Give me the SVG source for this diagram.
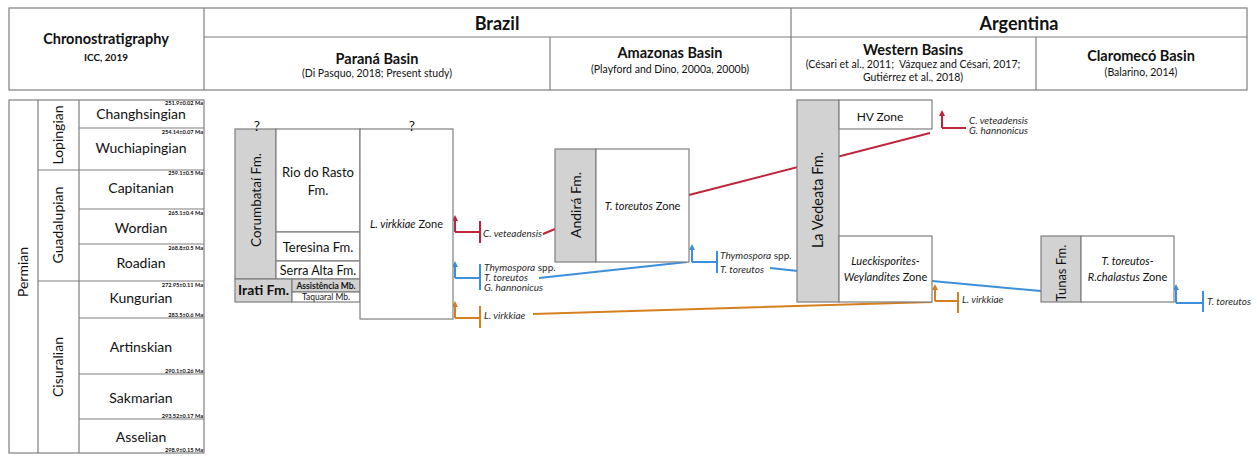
<svg xmlns="http://www.w3.org/2000/svg" width="1257" height="456" viewBox="0 0 1257 456">
<defs>
<style>
text{font-family:Lato,"Liberation Sans",sans-serif;fill:#111}
.ln{stroke:#7f7f7f;stroke-width:1.2;fill:none}
.box{fill:#fff;stroke:#7f7f7f;stroke-width:1.2}
.gray{fill:#d2d2d2;stroke:#7f7f7f;stroke-width:1.2}
.c{text-anchor:middle}
.b{font-weight:bold}
.i{font-style:italic}
.hdr{font-size:18px;font-weight:bold;text-anchor:middle}
.basin{font-size:14.5px;font-weight:bold;text-anchor:middle}
.ref{font-size:10.5px;text-anchor:middle}
.stage{font-size:14px;text-anchor:middle}
.age{font-size:5.6px;font-weight:bold;text-anchor:end}
.sp{font-size:10px;font-style:italic;fill:#2a2a2a}
.q{font-size:14px;text-anchor:middle}
.red{stroke:#c0243c;stroke-width:2;fill:none}
.blue{stroke:#3b8fdc;stroke-width:2;fill:none}
.org{stroke:#d5801e;stroke-width:2;fill:none}
</style>
<marker id="ar" viewBox="0 0 6 6" refX="3" refY="3" markerWidth="3" markerHeight="3" orient="auto"><path d="M0,0 L6,3 L0,6 z" fill="#c0243c"/></marker>
<marker id="ab" viewBox="0 0 6 6" refX="3" refY="3" markerWidth="3" markerHeight="3" orient="auto"><path d="M0,0 L6,3 L0,6 z" fill="#3b8fdc"/></marker>
<marker id="ao" viewBox="0 0 6 6" refX="3" refY="3" markerWidth="3" markerHeight="3" orient="auto"><path d="M0,0 L6,3 L0,6 z" fill="#d5801e"/></marker>
</defs>
<rect width="1257" height="456" fill="#fff"/>

<g id="header">
<rect x="9" y="8" width="1238" height="82" class="box"/>
<path class="ln" d="M204,8 V90 M204,37 H1247 M791,8 V90 M550,37 V90 M1036,37 V90"/>
<text x="106" y="44" class="b c" style="font-size:14.5px">Chronostratigraphy</text>
<text x="106" y="61" class="b c" style="font-size:10px">ICC, 2019</text>
<text x="497" y="30" class="hdr">Brazil</text>
<text x="1019" y="30" class="hdr">Argentina</text>
<text x="377" y="64" class="basin">Paraná Basin</text>
<text x="377" y="77" class="ref">(Di Pasquo, 2018; Present study)</text>
<text x="670" y="58" class="basin">Amazonas Basin</text>
<text x="670" y="73" class="ref">(Playford and Dino, 2000a, 2000b)</text>
<text x="913" y="55" class="basin">Western Basins</text>
<text x="913" y="68" class="ref" xml:space="preserve">(Césari et al., 2011;  Vázquez and Césari, 2017;</text>
<text x="913" y="81" class="ref">Gutiérrez et al., 2018)</text>
<text x="1141" y="61" class="basin">Claromecó Basin</text>
<text x="1141" y="76" class="ref">(Balarino, 2014)</text>
</g>

<g id="chronostratigraphy">
<rect x="9" y="100" width="195" height="353" class="box"/>
<path class="ln" d="M38,100 V453 M79,100 V453 M38,170 H204 M38,281 H204 M79,128 H204 M79,209 H204 M79,244 H204 M79,318 H204 M79,374 H204 M79,419 H204"/>
<text transform="rotate(-90 23 272)" x="23" y="277" class="stage">Permian</text>
<text transform="rotate(-90 58 135)" x="58" y="140" class="stage">Lopingian</text>
<text transform="rotate(-90 58 225)" x="58" y="230" class="stage">Guadalupian</text>
<text transform="rotate(-90 58 367)" x="58" y="372" class="stage">Cisuralian</text>
<text x="141" y="119" class="stage">Changhsingian</text>
<text x="141" y="153" class="stage">Wuchiapingian</text>
<text x="141" y="193" class="stage">Capitanian</text>
<text x="141" y="233" class="stage">Wordian</text>
<text x="141" y="268" class="stage">Roadian</text>
<text x="141" y="303" class="stage">Kungurian</text>
<text x="141" y="352" class="stage">Artinskian</text>
<text x="141" y="403" class="stage">Sakmarian</text>
<text x="141" y="442" class="stage">Asselian</text>
<text x="203" y="105" class="age">251.9±0.02 Ma</text>
<text x="203" y="134" class="age">254.14±0.07 Ma</text>
<text x="203" y="175" class="age">259.1±0.5 Ma</text>
<text x="203" y="215" class="age">265.1±0.4 Ma</text>
<text x="203" y="250" class="age">268.8±0.5 Ma</text>
<text x="203" y="287" class="age">272.95±0.11 Ma</text>
<text x="203" y="317" class="age">283.5±0.6 Ma</text>
<text x="203" y="373" class="age">290.1±0.26 Ma</text>
<text x="203" y="418" class="age">293.52±0.17 Ma</text>
<text x="203" y="452" class="age">298.9±0.15 Ma</text>
</g>

<g id="connectors">
<path class="red" d="M455,232 V218" marker-end="url(#ar)"/>
<path class="red" d="M455,232 H480 M480,221 V243 M543,234 L555,229 M689,195 L930,133 M942,128 H966"/>
<path class="red" d="M942,128 V113" marker-end="url(#ar)"/>
<path class="blue" d="M455,278 V264" marker-end="url(#ab)"/>
<path class="blue" d="M455,278 H480 M480,264 V290 M539,278 L687,262 M692,262 H717 M717,251 V273 M770,268 L798,271 M932,281 L1041,291 M1176,303 H1203 M1203,291 V312"/>
<path class="blue" d="M692,262 V247" marker-end="url(#ab)"/>
<path class="blue" d="M1176,303 V287" marker-end="url(#ab)"/>
<path class="org" d="M455,318 V304" marker-end="url(#ao)"/>
<path class="org" d="M455,318 H480 M480,306 V328 M533,314 L932,302 M935,301 H958 M958,292 V313"/>
<path class="org" d="M935,301 V287" marker-end="url(#ao)"/>
</g>

<g id="connector-labels">
<text x="483" y="237" class="sp">C. veteadensis</text>
<text x="484" y="271" class="sp"><tspan>Thymospora</tspan><tspan style="font-style:normal"> spp.</tspan></text>
<text x="484" y="281" class="sp">T. toreutos</text>
<text x="484" y="291" class="sp">G. hannonicus</text>
<text x="484" y="319" class="sp">L. virkkiae</text>
<text x="720" y="259" class="sp"><tspan>Thymospora</tspan><tspan style="font-style:normal"> spp.</tspan></text>
<text x="720" y="273" class="sp">T. toreutos</text>
<text x="969" y="124" class="sp">C. veteadensis</text>
<text x="969" y="134" class="sp">G. hannonicus</text>
<text x="962" y="303" class="sp">L. virkkiae</text>
<text x="1207" y="305" class="sp">T. toreutos</text>
</g>

<g id="corumbatai-fm">
<rect x="235" y="129" width="41" height="150" class="gray"/>
<text transform="rotate(-90 256 200)" x="256" y="205" class="c" style="font-size:13.5px">Corumbataí Fm.</text>
<text x="257" y="131" class="q">?</text>
</g>
<g id="rio-do-rasto-fm">
<rect x="276" y="129" width="84" height="103" class="box"/>
<text x="318" y="177" class="c" style="font-size:13px">Rio do Rasto</text>
<text x="318" y="195" class="c" style="font-size:13px">Fm.</text>
</g>
<g id="teresina-fm">
<rect x="276" y="232" width="84" height="29" class="box"/>
<text x="318" y="251.5" class="c" style="font-size:13px">Teresina Fm.</text>
</g>
<g id="serra-alta-fm">
<rect x="276" y="261" width="84" height="18" class="box"/>
<text x="318" y="274.5" class="c" style="font-size:12.5px">Serra Alta Fm.</text>
</g>
<g id="irati-fm">
<rect x="235" y="279" width="57" height="23" class="gray"/>
<text x="263.5" y="295" class="c b" style="font-size:14px">Irati Fm.</text>
</g>
<g id="assistencia-mb">
<rect x="292" y="279" width="68" height="13" class="gray"/>
<text x="326" y="289" class="c b" style="font-size:8.5px">Assistência Mb.</text>
</g>
<g id="taquaral-mb">
<rect x="292" y="292" width="68" height="10" class="box"/>
<text x="326" y="300" class="c" style="font-size:8.5px">Taquaral Mb.</text>
</g>
<g id="l-virkkiae-zone">
<rect x="360" y="129" width="93" height="190" class="box"/>
<text x="406.5" y="228" class="c" style="font-size:11px"><tspan class="i">L. virkkiae</tspan> Zone</text>
<text x="412" y="131" class="q">?</text>
</g>

<g id="andira-fm">
<rect x="555" y="149" width="41" height="113" class="gray"/>
<text transform="rotate(-90 575.5 205)" x="575.5" y="210" class="c" style="font-size:14px">Andirá Fm.</text>
</g>
<g id="t-toreutos-zone">
<rect x="596" y="149" width="93" height="113" class="box"/>
<text x="642.5" y="210" class="c" style="font-size:11px"><tspan class="i">T. toreutos</tspan> Zone</text>
</g>

<g id="la-vedeata-fm">
<rect x="797" y="100" width="42" height="202" class="gray"/>
<text transform="rotate(-90 818 200)" x="818" y="205" class="c" style="font-size:14.5px">La Vedeata Fm.</text>
</g>
<g id="hv-zone">
<rect x="839" y="100" width="93" height="29" class="box"/>
<text x="880" y="121" class="c" style="font-size:12px">HV Zone</text>
</g>
<g id="lueckisporites-weylandites-zone">
<rect x="839" y="236" width="93" height="66" class="box"/>
<text x="885.5" y="265" class="c i" style="font-size:11px">Lueckisporites-</text>
<text x="885.5" y="281" class="c" style="font-size:11px"><tspan class="i">Weylandites</tspan> Zone</text>
</g>

<g id="tunas-fm">
<rect x="1041" y="236" width="40" height="66" class="gray"/>
<text transform="rotate(-90 1061 273)" x="1061" y="278" class="c" style="font-size:13px">Tunas Fm.</text>
</g>
<g id="t-toreutos-r-chalastus-zone">
<rect x="1081" y="236" width="93" height="66" class="box"/>
<text x="1127.5" y="265" class="c i" style="font-size:11px">T. toreutos-</text>
<text x="1127.5" y="281" class="c" style="font-size:11px"><tspan class="i">R.chalastus</tspan> Zone</text>
</g>
</svg>
